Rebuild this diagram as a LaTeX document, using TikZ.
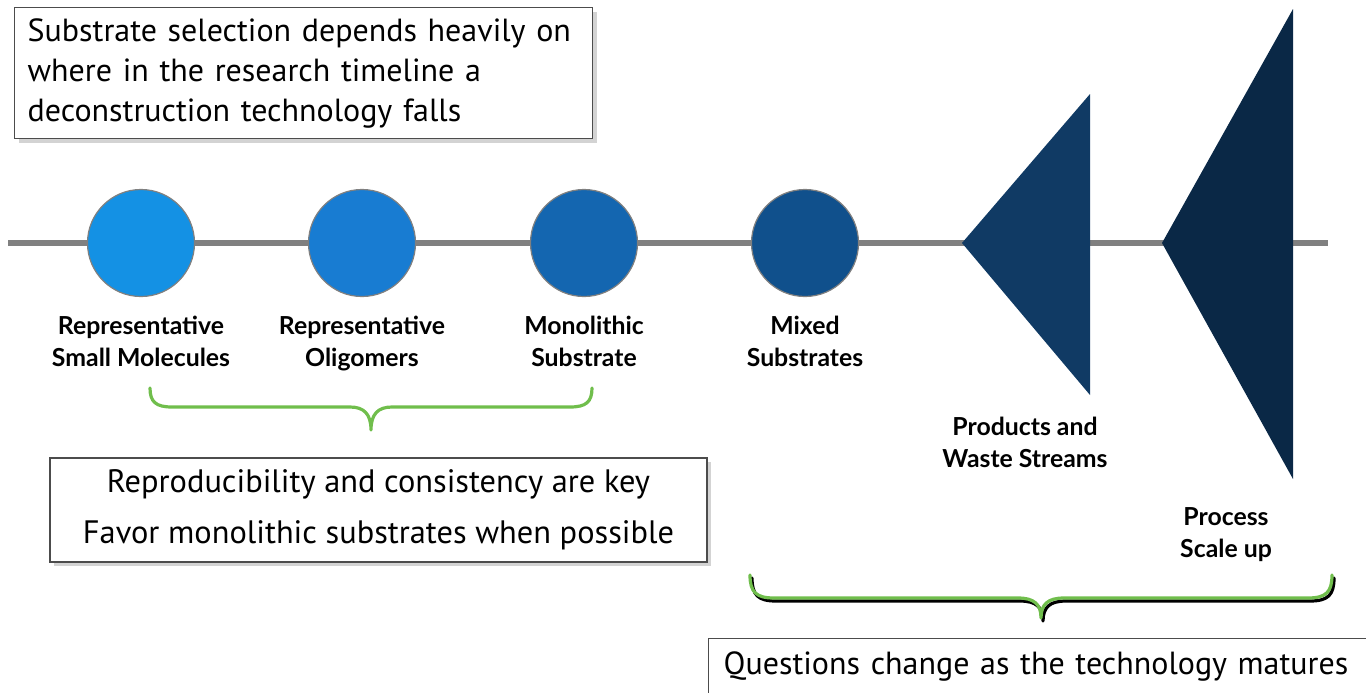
\documentclass[tikz,border=0pt]{standalone}
\usepackage{fontspec}
\setmainfont{PT Sans}
\newfontfamily\lblfont{Lato}
\usetikzlibrary{positioning,shadows}

\definecolor{lineg}{RGB}{128,128,128}
\definecolor{stageA}{RGB}{20,145,228}
\definecolor{stageB}{RGB}{24,124,210}
\definecolor{stageC}{RGB}{20,102,176}
\definecolor{stageD}{RGB}{16,80,140}
\definecolor{triA}{RGB}{16,58,100}
\definecolor{triB}{RGB}{10,40,70}
\definecolor{braceg}{RGB}{112,190,76}

\begin{document}
\begin{tikzpicture}[
  x=0.5pt,y=-0.5pt,
  stage/.style={draw=lineg,line width=0.6pt,circle,minimum size=53.5pt,inner sep=0pt},
  lbl/.style={inner sep=0pt,align=center,font=\lblfont\bfseries\fontsize{12.4}{16}\selectfont},
  note/.style={draw=black!70,fill=white,line width=0.7pt,
    drop shadow={shadow xshift=2pt,shadow yshift=-2pt,opacity=0.35}},
  timeline/.style={lineg,line width=3pt},
  bracegreen/.style={braceg,line width=1.6pt,line cap=round,line join=round}
]
\useasboundingbox (0,0) rectangle (1366,692);

% timeline
\coordinate (tstart) at (8,243);
\coordinate (tend) at (1328,243);
\draw[timeline] (tstart) -- (tend);

% stages
\node[stage,fill=stageA] (small) at (141,243) {};
\node[stage,fill=stageB] (oligo) at (362,243) {};
\node[stage,fill=stageC] (mono) at (584,243) {};
\node[stage,fill=stageD] (mixed) at (805,243) {};

\node[lbl,below=9.5pt of small] (smalllbl) {Representative\\Small Molecules};
\node[lbl,below=9.5pt of oligo] (oligolbl) {Representative\\Oligomers};
\node[lbl,below=9.5pt of mono] (monolbl) {Monolithic\\Substrate};
\node[lbl,below=9.5pt of mixed] (mixedlbl) {Mixed\\Substrates};

% triangles
\coordinate (prodtip) at (962,243);
\coordinate (scaletip) at (1162,243);
\fill[triA] (prodtip) -- (1090,94) -- (1090,395) -- cycle;
\fill[triB] (scaletip) -- (1293,9) -- (1293,479) -- cycle;

\node[lbl,anchor=north] (prodlbl) at (1025,417) {Products and\\Waste Streams};
\node[lbl,anchor=north] (scalelbl) at (1226,507) {Process\\Scale up};

% braces
\draw[bracegreen] (150,388) .. controls (150,402) and (156,407) .. (172,407)
  -- (350,407) .. controls (364,407) and (371,414) .. (371,430)
  .. controls (371,414) and (378,407) .. (392,407)
  -- (570,407) .. controls (586,407) and (592,402) .. (592,388);
\begin{scope}[shift={(2,3)}]
\draw[bracegreen,black] (750,575) .. controls (750,592) and (756,598) .. (774,598)
  -- (1018,598) .. controls (1034,598) and (1041,604) .. (1041,618)
  .. controls (1041,604) and (1048,598) .. (1064,598)
  -- (1308,598) .. controls (1326,598) and (1332,592) .. (1332,575);
\end{scope}
\draw[bracegreen] (750,575) .. controls (750,592) and (756,598) .. (774,598)
  -- (1018,598) .. controls (1034,598) and (1041,604) .. (1041,618)
  .. controls (1041,604) and (1048,598) .. (1064,598)
  -- (1308,598) .. controls (1326,598) and (1332,592) .. (1332,575);

% notes
\node[note,anchor=north west,align=left,text width=276pt,inner xsep=6.5pt,
  minimum height=65.5pt,font=\fontsize{16}{20}\selectfont] (timing) at (14,7)
  {Substrate selection depends heavily on\\where in the research timeline a\\deconstruction technology falls};
\node[note,align=center,minimum width=328.5pt,minimum height=52pt,
  font=\fontsize{16.2}{25.5}\selectfont] (repro) at (378.5,510)
  {Reproducibility and consistency are key\\Favor monolithic substrates when possible};
\node[draw=black!70,fill=white,line width=0.7pt,anchor=north west,align=left,
  minimum width=335pt,minimum height=28pt,text width=320pt,inner xsep=7pt,
  font=\fontsize{16}{20}\selectfont] (mature) at (708,638)
  {Questions change as the technology matures};
\end{tikzpicture}
\end{document}
